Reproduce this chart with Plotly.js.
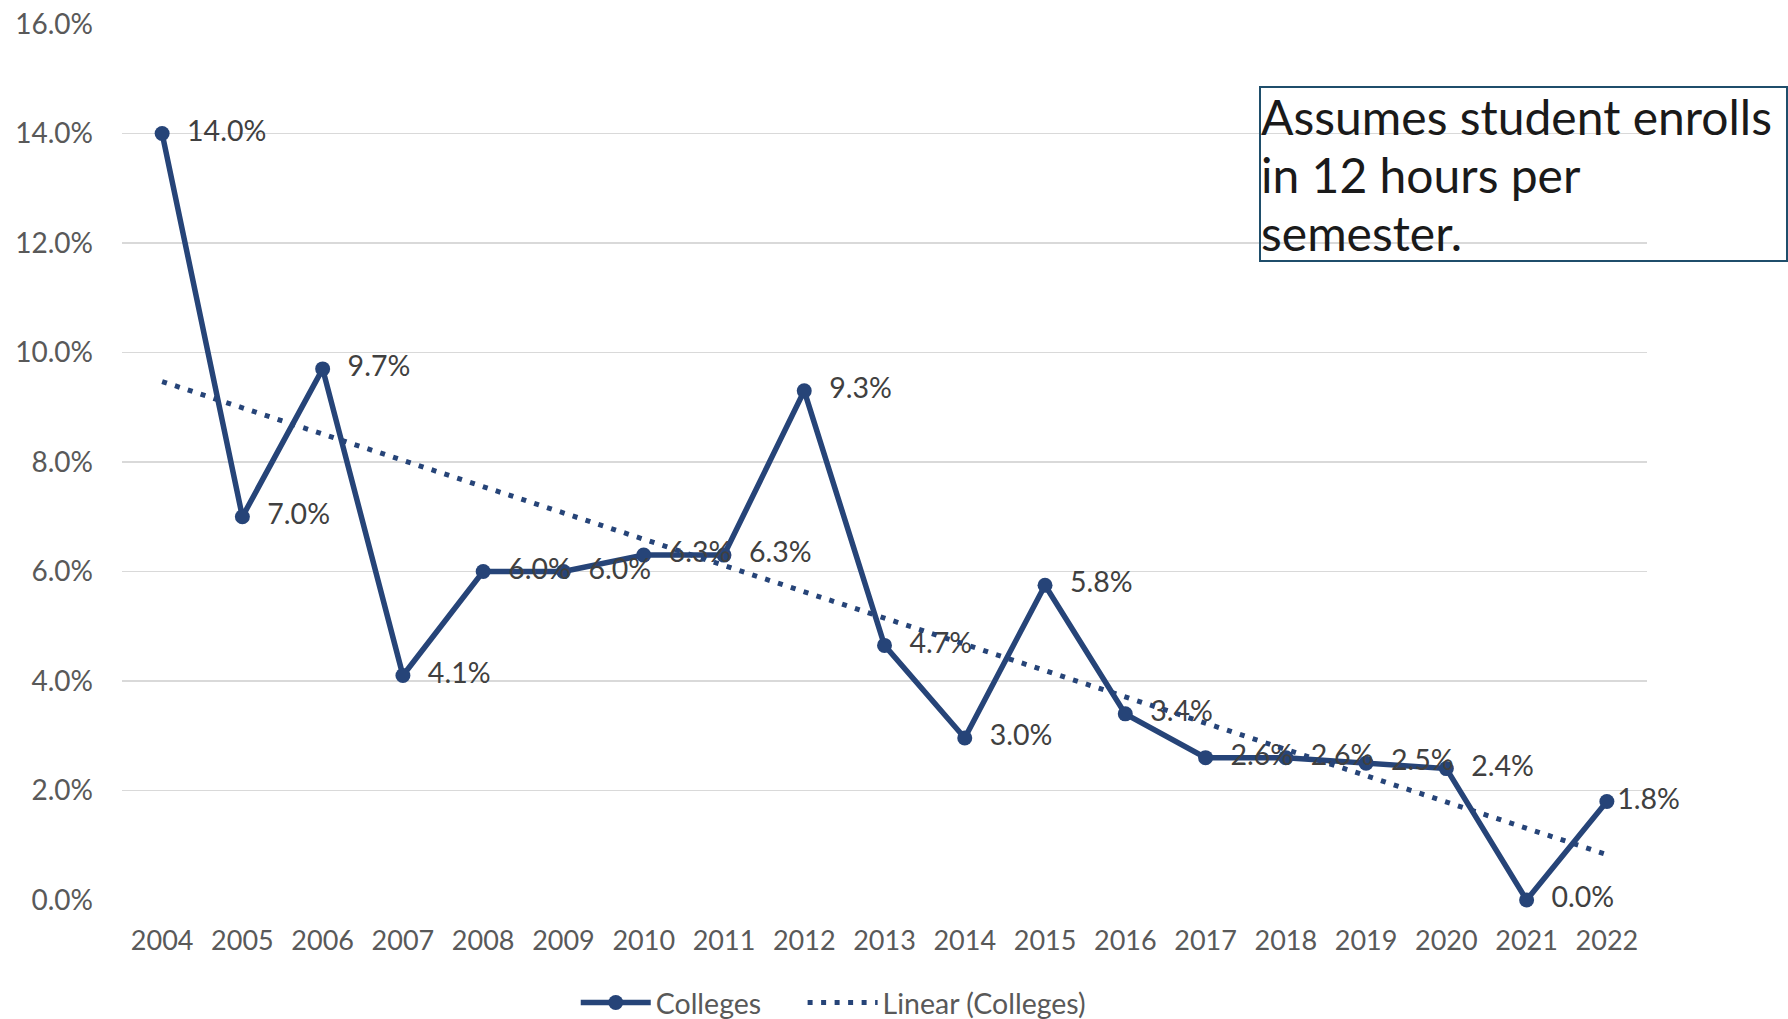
<!DOCTYPE html>
<html>
<head>
<meta charset="utf-8">
<script src="https://cdn.plot.ly/plotly-3.0.1.min.js"></script>
<style>
html,body{margin:0;padding:0;background:#fff;}
#chart{width:1788px;height:1019px;}
</style>
</head>
<body>
<div id="chart"></div>
<script>
// Data
const years = ["2004","2005","2006","2007","2008","2009","2010","2011","2012","2013","2014","2015","2016","2017","2018","2019","2020","2021","2022"];
const colleges = [0.140,0.070,0.097,0.041,0.060,0.060,0.063,0.063,0.093,0.0465,0.0296,0.0575,0.034,0.026,0.026,0.025,0.024,0.000,0.018];
const trendYears = ["2004","2022"];
const trendValues = [0.0947,0.0083];
const yTicks = [0,0.02,0.04,0.06,0.08,0.10,0.12,0.14,0.16];
const seriesNames = ["Colleges","Linear (Colleges)"];
const noteLines = ["Assumes student enrolls","in 12 hours per","semester."];

const FONT = "Lato, 'Open Sans', sans-serif";
const BLUE = "#264478";

const nb = "\u00a0\u00a0";
const labelTemplates = years.map((y,i)=> i === years.length-1 ? "%{y:.1%}" : nb + "%{y:.1%}");
const legendPad = "\u00a0\u00a0\u00a0\u00a0\u00a0";

const traces = [
  {
    x: years, y: colleges, name: seriesNames[0] + legendPad, type: "scatter", mode: "lines+markers+text",
    line: {color: BLUE, width: 5.5},
    marker: {color: BLUE, size: 15},
    texttemplate: labelTemplates,
    textposition: "middle right",
    textfont: {family: FONT, size: 28.5, color: "#404040"},
    cliponaxis: false,
    hoverinfo: "x+y"
  },
  {
    x: trendYears, y: trendValues, name: seriesNames[1], type: "scatter", mode: "lines",
    line: {color: BLUE, width: 5, dash: "5px,8.5px"},
    hoverinfo: "skip"
  }
];

// plot area: x 122..1647, y 24..900 (px)
const PX = v => (v - 122) / 1525;
const PY = v => (900 - v) / 876;

const annotations = noteLines.map((t, i) => ({
  xref: "paper", yref: "paper", x: PX(1259), y: PY([116.5, 174, 232][i]),
  xanchor: "left", yanchor: "middle", text: t, align: "left", showarrow: false,
  font: {family: FONT, size: 48, color: "#1a1a1a"}
}));

const layout = {
  width: 1788, height: 1019,
  margin: {l: 122, r: 141, t: 24, b: 119},
  paper_bgcolor: "#ffffff", plot_bgcolor: "#ffffff",
  font: {family: FONT, size: 28, color: "#595959"},
  showlegend: true,
  legend: {
    orientation: "h", xref: "container", yref: "container",
    x: 0.322, xanchor: "left", y: 1 - 1003/1019, yanchor: "middle",
    font: {family: FONT, size: 28.5, color: "#595959"},
    itemwidth: 70, traceorder: "normal"
  },
  xaxis: {
    type: "category", range: [-0.5, 18.5],
    showgrid: false, zeroline: false, showline: false,
    ticks: "", ticklabelstandoff: 22,
    tickfont: {family: FONT, size: 27, color: "#595959"},
    fixedrange: true
  },
  yaxis: {
    range: [0, 0.16], tickvals: yTicks, tickformat: ".1%",
    showgrid: true, gridcolor: "#d9d9d9", gridwidth: 1.5,
    zeroline: false, showline: false, ticks: "", ticklabelstandoff: 28,
    tickfont: {family: FONT, size: 28, color: "#595959"},
    fixedrange: true
  },
  shapes: [
    {type: "rect", xref: "paper", yref: "paper",
     x0: PX(1260), x1: PX(1787), y0: PY(87), y1: PY(261),
     line: {color: "#1f4e6b", width: 2}, fillcolor: "rgba(0,0,0,0)", layer: "above"}
  ],
  annotations: annotations
};

Plotly.newPlot("chart", traces, layout, {displayModeBar: false, staticPlot: true});
</script>
</body>
</html>
